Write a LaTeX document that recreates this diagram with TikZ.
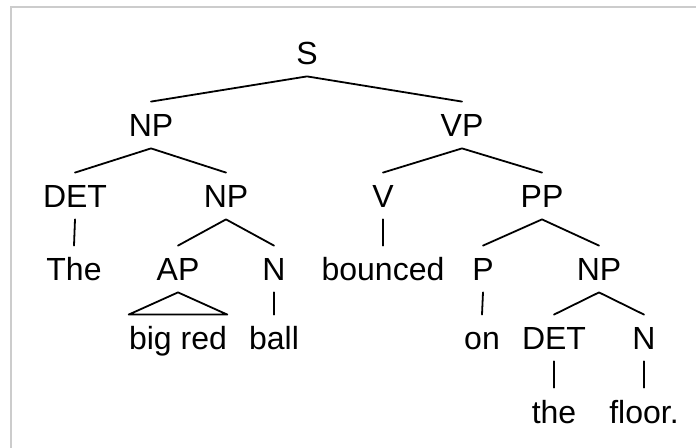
\documentclass[tikz,border=0pt]{standalone}
\usepackage{fontspec}
\setmainfont{Liberation Sans}
\begin{document}
\begin{tikzpicture}[x=0.5pt,y=-0.5pt,
  lbl/.style={anchor=base,inner xsep=0pt,inner ysep=5.5pt,text height=12pt,text depth=0pt,
    font=\fontsize{16}{19}\selectfont},
  branch/.style={line width=0.9pt,line cap=round,line join=round},
  frameline/.style={draw=black!20,line width=1pt}]
\useasboundingbox (0,0) rectangle (696,448);
\fill[white] (0,0) rectangle (696,448);
% panel frame (right and bottom sides lie outside the page)
\draw[frameline] (11,460) -- (11,7) -- (710,7);

% row 1
\node[lbl] (S) at (307,65) {S};
% row 2
\node[lbl] (np1) at (151,137) {NP};
\node[lbl] (vp) at (462,137) {VP};
% row 3
\node[lbl] (det1) at (75,208) {DET};
\node[lbl] (np2) at (226,208) {NP};
\node[lbl] (v) at (383,208) {V};
\node[lbl] (pp) at (542,208) {PP};
% row 4
\node[lbl] (the1) at (74,281) {The};
\node[lbl] (ap) at (178,281) {AP};
\node[lbl] (n1) at (274,281) {N};
\node[lbl] (bounced) at (383,281) {bounced};
\node[lbl] (p) at (483,281) {P};
\node[lbl] (np3) at (599,281) {NP};
% row 5
\node[lbl] (bigred) at (178,350) {big red};
\node[lbl] (ball) at (274,350) {ball};
\node[lbl] (on) at (482,350) {on};
\node[lbl] (det2) at (554,350) {DET};
\node[lbl] (n2) at (644,350) {N};
% row 6
\node[lbl] (the2) at (554,423) {the};
\node[lbl] (floor) at (644,423) {floor.};

% branches
\draw[branch] (np1.north) -- (S.south) -- (vp.north);
\draw[branch] (det1.north) -- (np1.south) -- (np2.north);
\draw[branch] (v.north) -- (vp.south) -- (pp.north);
\draw[branch] (det1.south) -- (the1.north);
\draw[branch] (ap.north) -- (np2.south) -- (n1.north);
\draw[branch] (v.south) -- (bounced.north);
\draw[branch] (p.north) -- (pp.south) -- (np3.north);
\draw[branch] (ap.south) -- (bigred.north west) -- (bigred.north east) -- cycle;
\draw[branch] (n1.south) -- (ball.north);
\draw[branch] (p.south) -- (on.north);
\draw[branch] (det2.north) -- (np3.south) -- (n2.north);
\draw[branch] (det2.south) -- (the2.north);
\draw[branch] (n2.south) -- (floor.north);
\end{tikzpicture}
\end{document}
